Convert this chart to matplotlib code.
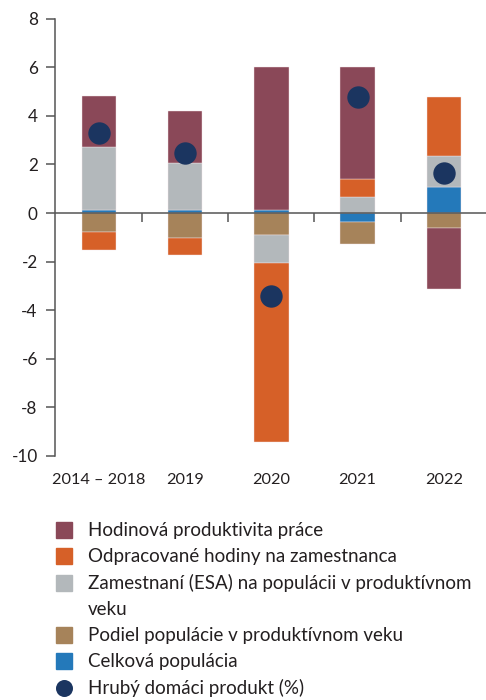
import numpy as np
import matplotlib.pyplot as plt
from matplotlib.patches import Rectangle

plt.rcParams['font.family'] = ['Lato', 'DejaVu Sans']
plt.rcParams['axes.unicode_minus'] = False

categories = ['2014 – 2018', '2019', '2020', '2021', '2022']

# contributions (p.b.), stacked from zero in this order
population = [0.12, 0.12, 0.12, -0.37, 1.07]
share = [-0.77, -1.04, -0.89, -0.89, -0.60]
employment = [2.60, 1.94, -1.16, 0.66, 1.28]
hours = [-0.76, -0.69, -7.37, 0.74, 2.44]
productivity = [2.11, 2.15, 5.90, 4.62, -2.54]
gdp = [3.29, 2.48, -3.42, 4.76, 1.66]

names = ['Hodinová produktivita práce',
         'Odpracované hodiny na zamestnanca',
         'Zamestnaní (ESA) na populácii v produktívnom\nveku',
         'Podiel populácie v produktívnom veku',
         'Celková populácia']
gdp_name = 'Hrubý domáci produkt (%)'
colors = ['#8A4858', '#D66028', '#B3B8BB', '#A6835A', '#2479BA']
dot_color = '#1B3560'
text_color = '#231F20'

fig = plt.figure(figsize=(4.86, 7), dpi=100)
ax = fig.add_axes([55 / 486, 1 - 456 / 700, 1 - 55 / 486, (456 - 18.6) / 700])

x = np.arange(len(categories))
series = [population, share, employment, hours, productivity]
series_colors = [colors[4], colors[3], colors[2], colors[1], colors[0]]
pos = np.zeros(len(x))
neg = np.zeros(len(x))
for vals, c in zip(series, series_colors):
    vals = np.array(vals)
    bottom = np.where(vals >= 0, pos, neg)
    ax.bar(x, vals, 0.4, bottom=bottom, color=c, edgecolor='#F4E6E8', linewidth=0.3, zorder=2)
    pos = pos + np.where(vals >= 0, vals, 0)
    neg = neg + np.where(vals < 0, vals, 0)

ax.scatter(x, gdp, s=260, color=dot_color, zorder=4, linewidths=0)

ax.axhline(0, color='#555555', lw=1.1, zorder=3)
ax.vlines(x[:-1] + 0.5, -0.38, 0, color='#555555', lw=1.1, zorder=3)

ax.set_xlim(-0.51, len(x) - 0.51)
ax.set_ylim(-10, 8)
ax.set_yticks(np.arange(-10, 9, 2))
ax.set_xticks(x)
ax.set_xticklabels(categories)
for s in ['top', 'right', 'bottom']:
    ax.spines[s].set_visible(False)
ax.spines['left'].set_color('#555555')
ax.spines['left'].set_linewidth(1.1)
ax.tick_params(axis='y', length=6.5, width=1.1, color='#555555', pad=6,
               labelsize=12.3, labelcolor=text_color)
ax.tick_params(axis='x', length=0, pad=12, labelsize=11.7, labelcolor=text_color)

# legend drawn in pixel units below the chart
lax = fig.add_axes([0, 0, 1, 200 / 700])
lax.set_xlim(0, 486)
lax.set_ylim(700, 500)
lax.axis('off')
row = 26.3
y = 530
for name, c in zip(names, colors):
    lax.add_patch(Rectangle((56, y - 8), 16, 16, color=c))
    for k, line in enumerate(name.split('\n')):
        lax.text(88, y + 6 + k * row, line, fontsize=13.5, color=text_color, va='baseline')
    y += row * (name.count('\n') + 1)
lax.scatter([64], [y], s=150, color=dot_color, linewidths=0)
lax.text(88, y + 6, gdp_name, fontsize=13.5, color=text_color, va='baseline')

fig.savefig('out.png', dpi=100)
